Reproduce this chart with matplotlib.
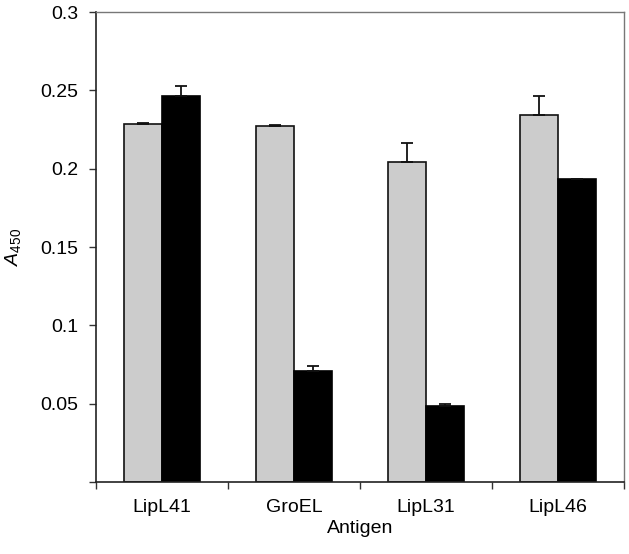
import matplotlib
matplotlib.use("Agg")
import matplotlib.pyplot as plt
import numpy as np

plt.rcParams['font.family'] = ['Liberation Sans', 'DejaVu Sans']
plt.rcParams['mathtext.fontset'] = 'custom'
plt.rcParams['mathtext.rm'] = 'Liberation Sans'
plt.rcParams['mathtext.it'] = 'Liberation Sans:italic'

antigens = ['LipL41', 'GroEL', 'LipL31', 'LipL46']
gray_vals = [0.2287, 0.2276, 0.2042, 0.2342]
gray_err = [0.0005, 0.0005, 0.0121, 0.0123]
black_vals = [0.2463, 0.0710, 0.0487, 0.1932]
black_err = [0.0066, 0.0028, 0.0009, 0.0]

fig = plt.figure(figsize=(6.29, 5.54), dpi=100)
ax = fig.add_axes([0.1526, 0.13, 0.8394, 0.848])

x = np.arange(len(antigens))
w = 0.285
zeros = [0] * len(antigens)
ax.bar(x - w / 2, gray_vals, w, color='#cccccc', edgecolor='#111111', linewidth=1.2,
       yerr=[zeros, gray_err], error_kw=dict(ecolor='#111111', elinewidth=1.3, capsize=4.5, capthick=1.3))
ax.bar(x + w / 2, black_vals, w, color='black', edgecolor='black', linewidth=1.2,
       yerr=[zeros, black_err], error_kw=dict(ecolor='#111111', elinewidth=1.3, capsize=4.5, capthick=1.3))

ax.set_xlim(-0.5, len(antigens) - 0.5)
ax.set_ylim(0, 0.3)
ax.set_yticks([0, 0.05, 0.1, 0.15, 0.2, 0.25, 0.3])
ax.set_yticklabels(['', '0.05', '0.1', '0.15', '0.2', '0.25', '0.3'])
ax.set_xticks(np.arange(-0.5, len(antigens), 1.0))
ax.set_xticklabels([])
ax.set_xticks(x, minor=True)
ax.set_xticklabels(antigens, minor=True)
ax.tick_params(axis='x', which='minor', length=0, pad=12, labelsize=14)
ax.tick_params(axis='x', which='major', length=5, width=1, color='#333333')
ax.tick_params(axis='y', length=5, width=1, color='#333333', labelsize=14, pad=8)

for s in ['top', 'right']:
    ax.spines[s].set_color('#777777')
    ax.spines[s].set_linewidth(1.0)
for s in ['left', 'bottom']:
    ax.spines[s].set_color('#222222')
    ax.spines[s].set_linewidth(1.2)

ax.set_xlabel('Antigen', fontsize=14, labelpad=3)
ax.set_ylabel(r'$\mathit{A}_{450}$', fontsize=14, labelpad=12)

fig.savefig('out.png', dpi=100)
